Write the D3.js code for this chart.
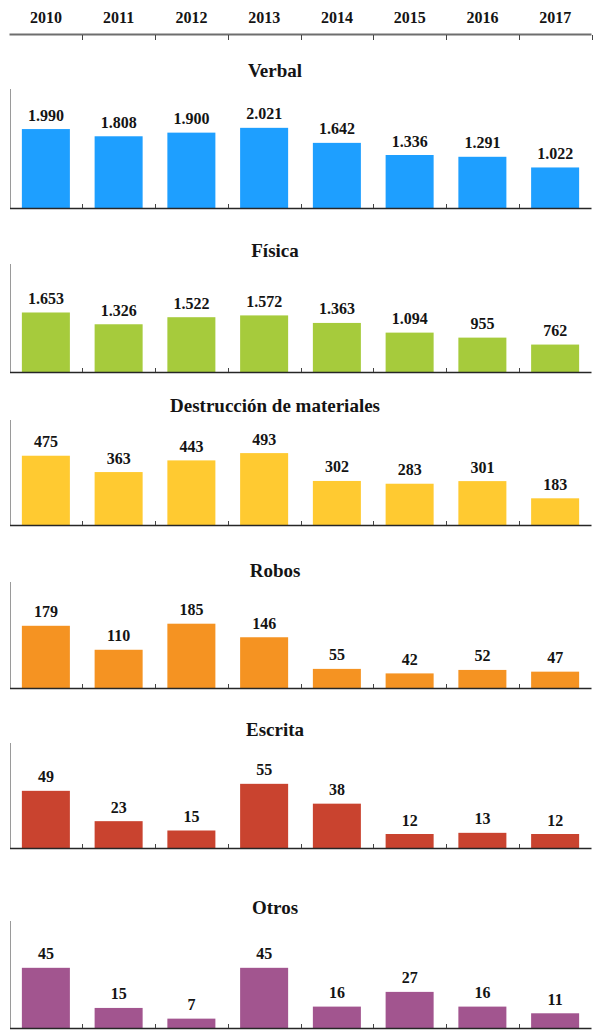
<!DOCTYPE html>
<html><head><meta charset="utf-8">
<script src="https://cdn.jsdelivr.net/npm/d3@7"></script>
<style>
html,body{margin:0;padding:0;background:#fff;}
svg{display:block;}
text{font-family:"Liberation Serif","Times New Roman",serif;font-weight:bold;fill:#141414;}
</style></head>
<body>
<script>
const years = ["2010","2011","2012","2013","2014","2015","2016","2017"];
const titles = ["Verbal","Física","Destrucción de materiales","Robos","Escrita","Otros"];
const verbal = [1990,1808,1900,2021,1642,1336,1291,1022];
const fisica = [1653,1326,1522,1572,1363,1094,955,762];
const destruccion = [475,363,443,493,302,283,301,183];
const robos = [179,110,185,146,55,42,52,47];
const escrita = [49,23,15,55,38,12,13,12];
const otros = [45,15,7,45,16,27,16,11];
const series = [verbal,fisica,destruccion,robos,escrita,otros];
const colors = ["#1E9FFF","#A6CB3C","#FFCA31","#F59322","#C9432F","#A2558F"];
const yMax = [3000,3000,720,305,90,80];

// layout (pixel geometry)
const panelTop =  [89, 264, 420, 582, 743, 921];
const panelBase = [208, 372, 525, 688, 848, 1028];
const titleY =    [77, 257, 412, 577, 736, 914];

const W = 600, H = 1030;
const svg = d3.select("body").append("svg").attr("width", W).attr("height", H);

const x = d3.scaleBand().domain(years).range([9.5, 591.5]).paddingInner(0.34).paddingOuter(0.17);
const step = x.step();
const bounds = years.map(y => x(y) - step*0.17).concat([x(years[years.length-1]) + x.bandwidth() + step*0.17]);
const fmt = v => d3.format(",")(v).replace(/,/g, ".");

// top year axis
svg.append("line").attr("x1", 9.5).attr("x2", 591.5).attr("y1", 34.5).attr("y2", 34.5)
  .attr("stroke", "#6e6e6e").attr("stroke-width", 2);
svg.selectAll(".ttick").data(bounds.slice(1)).join("line")
  .attr("x1", d => Math.round(d)+0.5).attr("x2", d => Math.round(d)+0.5)
  .attr("y1", 35).attr("y2", 40).attr("stroke", "#444").attr("stroke-width", 1);
svg.selectAll(".year").data(years).join("text")
  .attr("x", d => x(d) + x.bandwidth()/2).attr("y", 23)
  .attr("text-anchor", "middle").attr("font-size", 16).text(d => d);

series.forEach((vals, i) => {
  const g = svg.append("g");
  const y = d3.scaleLinear().domain([0, yMax[i]]).range([panelBase[i], panelTop[i]]);
  g.append("text").attr("x", 275).attr("y", titleY[i]).attr("text-anchor", "middle")
    .attr("font-size", 19).text(titles[i]);
  g.append("line").attr("x1", 10.5).attr("x2", 10.5).attr("y1", panelTop[i]).attr("y2", panelBase[i])
    .attr("stroke", "#9a9a9a").attr("stroke-width", 1);
  g.selectAll("rect").data(vals).join("rect")
    .attr("x", (d, j) => x(years[j])).attr("width", x.bandwidth())
    .attr("y", d => y(d)).attr("height", d => panelBase[i] - y(d))
    .attr("fill", colors[i]);
  g.selectAll(".val").data(vals).join("text")
    .attr("x", (d, j) => x(years[j]) + x.bandwidth()/2).attr("y", d => y(d) - 8.5)
    .attr("text-anchor", "middle").attr("font-size", 16).text(d => fmt(d));
  g.append("line").attr("x1", 10).attr("x2", 591.5).attr("y1", panelBase[i]+0.5).attr("y2", panelBase[i]+0.5)
    .attr("stroke", "#262626").attr("stroke-width", 1.5);
  g.selectAll(".tk").data(bounds.slice(1, 8)).join("line")
    .attr("x1", d => Math.round(d)+0.5).attr("x2", d => Math.round(d)+0.5)
    .attr("y1", panelBase[i]-4).attr("y2", panelBase[i]).attr("stroke", "#444").attr("stroke-width", 1);
});
</script>
</body></html>
